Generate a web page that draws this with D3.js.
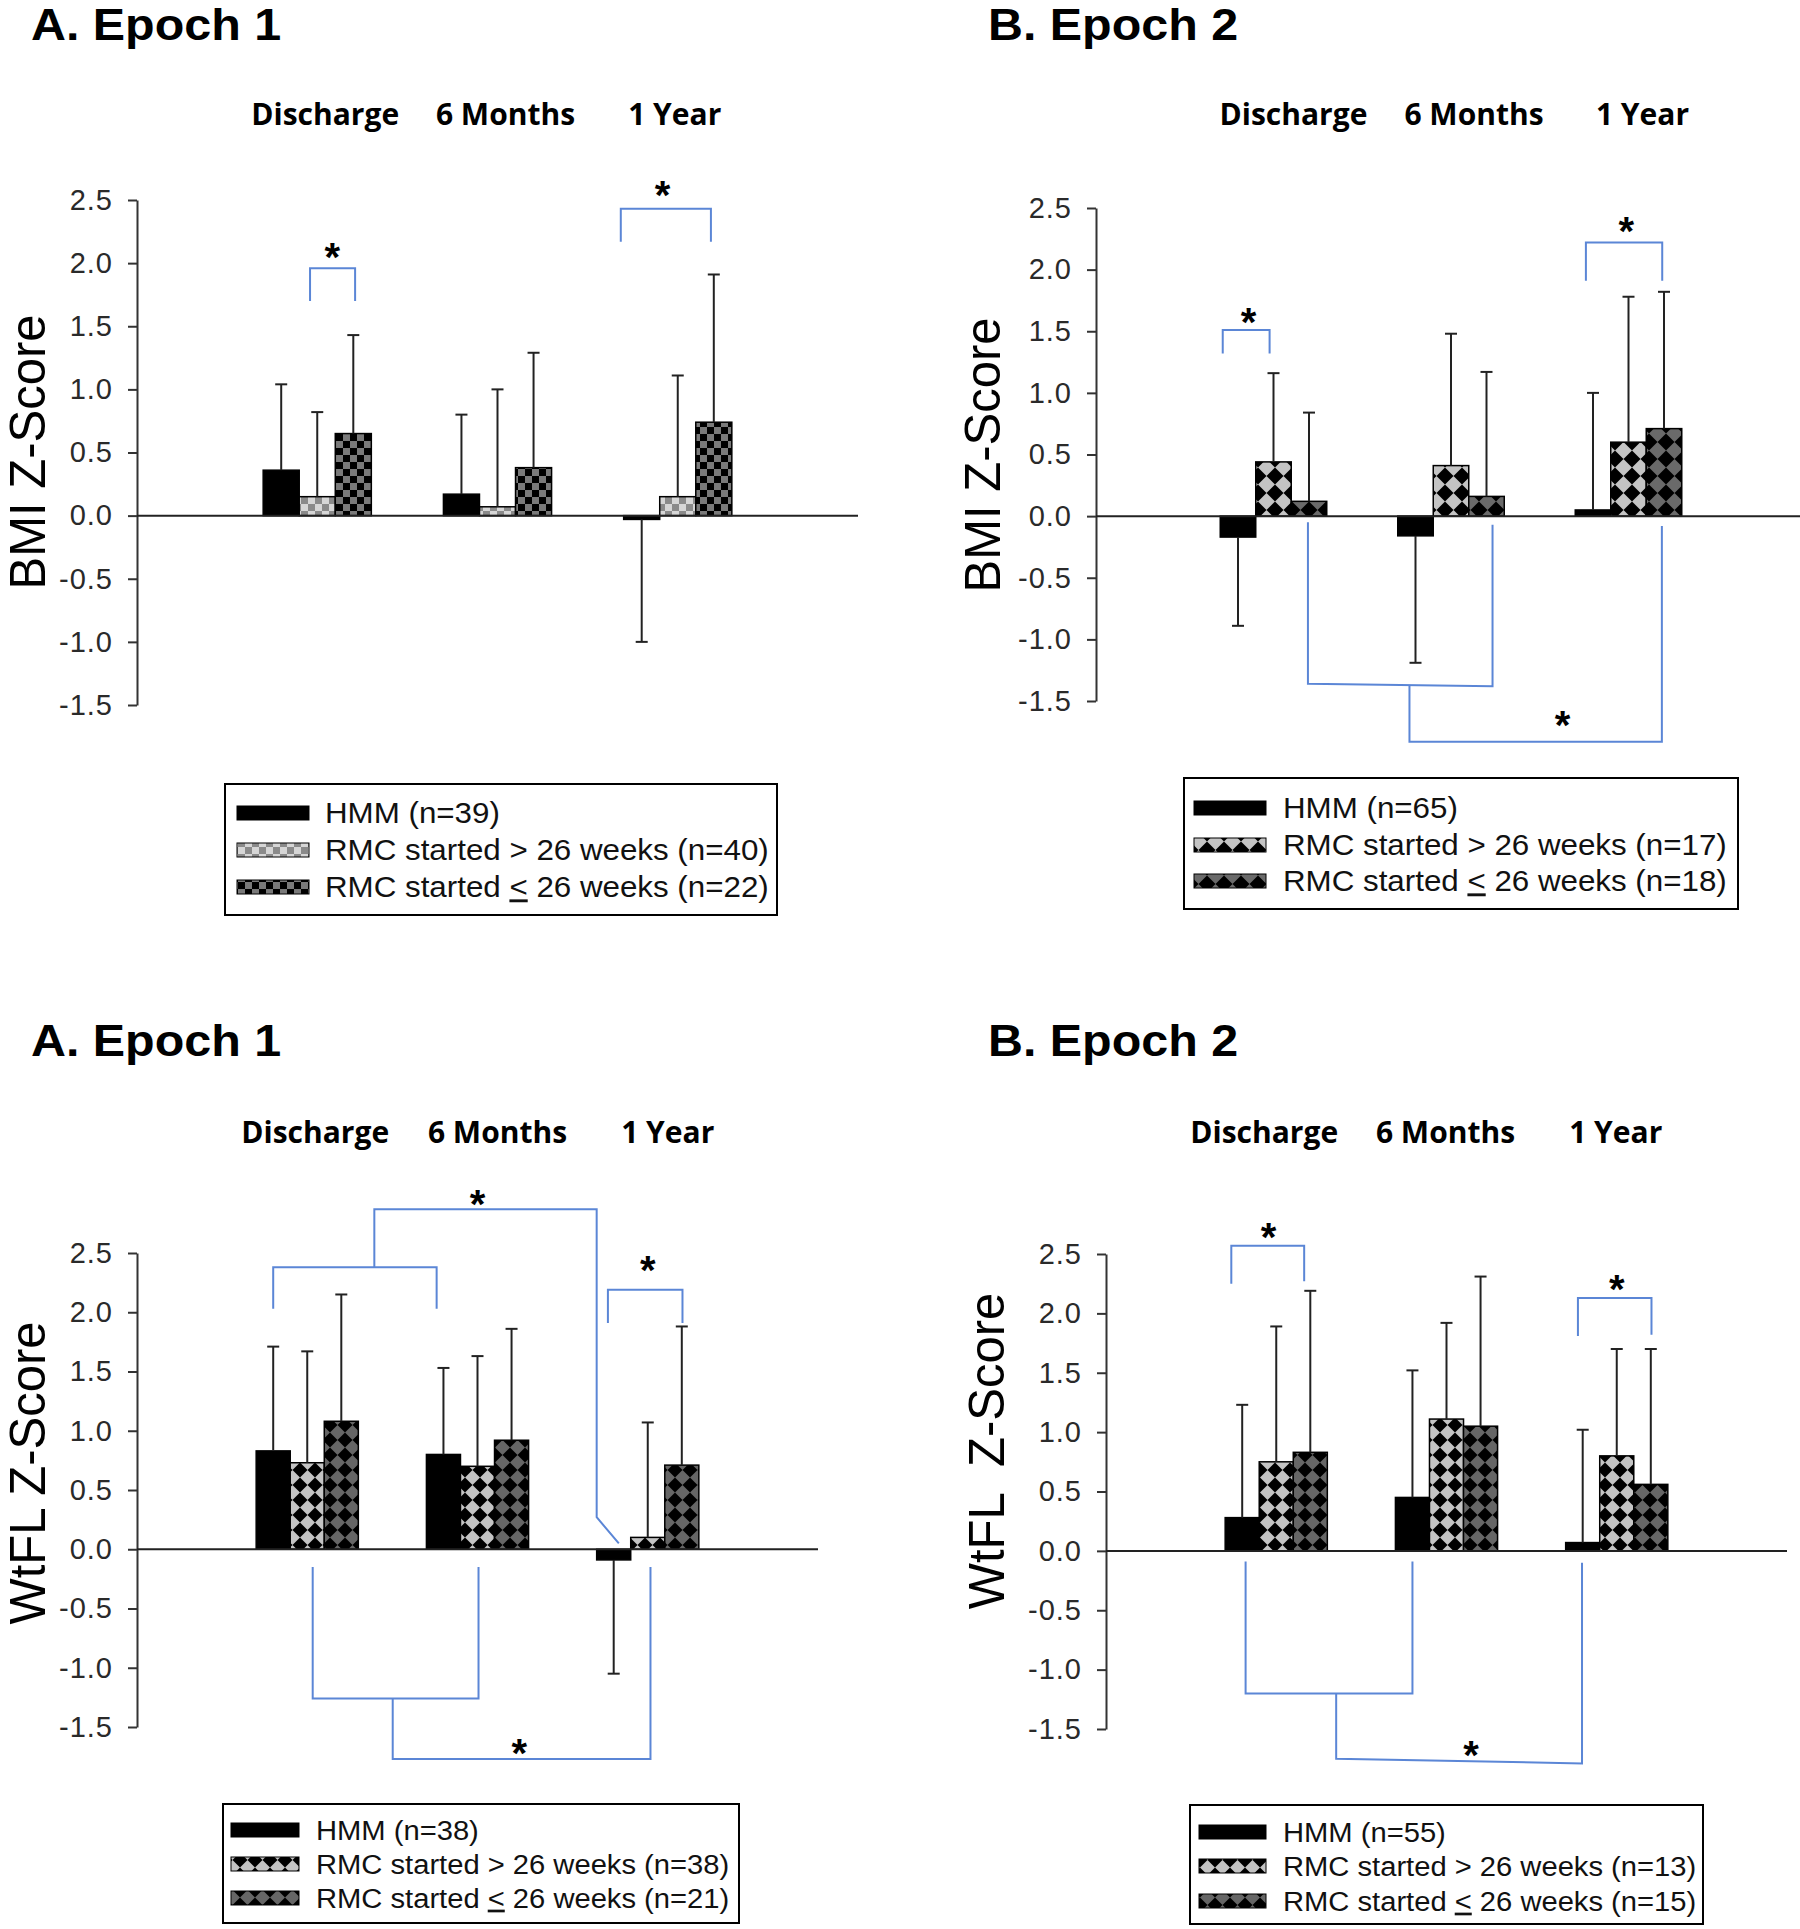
<!DOCTYPE html>
<html>
<head>
<meta charset="utf-8">
<script src="https://cdn.jsdelivr.net/npm/d3@7"></script>
<style>
  body { margin: 0; background: #fff; }
  svg { display: block; }
</style>
</head>
<body>
<svg id="chart"></svg>
<script>
// ---- data ----
const categories = ['Discharge', '6 Months', '1 Year'];
const yTicks = [2.5, 2.0, 1.5, 1.0, 0.5, 0.0, -0.5, -1.0, -1.5];
const panelTitles = ['A. Epoch 1', 'B. Epoch 2', 'A. Epoch 1', 'B. Epoch 2'];
const yTitles = ['BMI Z-Score', 'BMI Z-Score', 'WtFL Z-Score', 'WtFL  Z-Score'];
const legendN = [[39, 40, 22], [65, 17, 18], [38, 38, 21], [55, 13, 15]];

// BMI, epoch 1
const bmiE1Hmm = [0.36, 0.17, -0.03];
const bmiE1HmmSD = [0.68, 0.63, 0.97];
const bmiE1Late = [0.15, 0.07, 0.15];
const bmiE1LateSD = [0.67, 0.93, 0.96];
const bmiE1Early = [0.65, 0.38, 0.74];
const bmiE1EarlySD = [0.78, 0.91, 1.17];

// BMI, epoch 2
const bmiE2Hmm = [-0.17, -0.16, 0.05];
const bmiE2HmmSD = [0.72, 1.03, 0.95];
const bmiE2Late = [0.44, 0.41, 0.60];
const bmiE2LateSD = [0.72, 1.07, 1.18];
const bmiE2Early = [0.12, 0.16, 0.71];
const bmiE2EarlySD = [0.72, 1.01, 1.11];

// WtFL, epoch 1
const wflE1Hmm = [0.83, 0.80, -0.09];
const wflE1HmmSD = [0.88, 0.73, 0.96];
const wflE1Late = [0.73, 0.70, 0.10];
const wflE1LateSD = [0.94, 0.93, 0.97];
const wflE1Early = [1.08, 0.92, 0.71];
const wflE1EarlySD = [1.07, 0.94, 1.17];

// WtFL, epoch 2
const wflE2Hmm = [0.28, 0.45, 0.07];
const wflE2HmmSD = [0.95, 1.07, 0.95];
const wflE2Late = [0.75, 1.11, 0.80];
const wflE2LateSD = [1.14, 0.81, 0.90];
const wflE2Early = [0.83, 1.05, 0.56];
const wflE2EarlySD = [1.36, 1.26, 1.14];

// significance brackets: polylines of [category, offset in bar widths, z value]
const bmiE1Brackets = [
  [[0, -0.2, 1.70], [0, -0.2, 1.96], [0, 1.05, 1.96], [0, 1.05, 1.70]],
  [[2, -1.58, 2.17], [2, -1.58, 2.43], [2, 0.92, 2.43], [2, 0.92, 2.17]]
];
const bmiE1Stars = [[0, 0.42, 2.12], [2, -0.42, 2.61]];

const bmiE2Brackets = [
  [[0, -1.43, 1.32], [0, -1.43, 1.51], [0, -0.11, 1.51], [0, -0.11, 1.32]],
  [[2, -1.2, 1.91], [2, -1.2, 2.22], [2, 0.95, 2.22], [2, 0.95, 1.91]],
  [[0, 0.97, -0.05], [0, 0.97, -1.36], [1, 1.17, -1.38], [1, 1.17, -0.07]],
  [[0, 3.83, -1.37], [0, 3.83, -1.83], [2, 0.94, -1.83], [2, 0.94, -0.08]]
];
const bmiE2Stars = [[0, -0.7, 1.65], [2, -0.06, 2.39], [2, -1.86, -1.62]];

const wflE1Brackets = [
  [[0, -1, 2.03], [0, -1, 2.38], [1, -1.2, 2.38], [1, -1.2, 2.03]],
  [[0, 1.97, 2.38], [0, 1.97, 2.87], [2, -1.5, 2.87], [2, -1.5, 0.27], [2, -0.85, 0.05]],
  [[2, -1.17, 1.91], [2, -1.17, 2.19], [2, 1.02, 2.19], [2, 1.02, 1.91]],
  [[0, 0.16, -0.15], [0, 0.16, -1.26], [1, 0.03, -1.26], [1, 0.03, -0.15]],
  [[0, 2.51, -1.26], [0, 2.51, -1.77], [2, 0.08, -1.77], [2, 0.08, -0.15]]
];
const wflE1Stars = [[1, 0, 2.99], [2, 0, 2.43], [1, 1.23, -1.64]];

const wflE2Brackets = [
  [[0, -1.32, 2.25], [0, -1.32, 2.57], [0, 0.82, 2.57], [0, 0.82, 2.27]],
  [[2, -1.14, 1.81], [2, -1.14, 2.13], [2, 1.02, 2.13], [2, 1.02, 1.82]],
  [[0, -0.9, -0.09], [0, -0.9, -1.20], [1, -1.0, -1.20], [1, -1.0, -0.09]],
  [[0, 1.76, -1.20], [0, 1.76, -1.75], [2, -1.02, -1.79], [2, -1.02, -0.10]]
];
const wflE2Stars = [[0, -0.23, 2.72], [2, 0, 2.28], [1, 0.72, -1.64]];

// ---- layout ----
const W = 1800, H = 1929;
const svg = d3.select('#chart').attr('width', W).attr('height', H);
svg.append('rect').attr('width', W).attr('height', H).attr('fill', '#fff');

const defs = svg.append('defs');

function checker(id, a, b, s) {
  const p = defs.append('pattern').attr('id', id)
      .attr('patternUnits', 'userSpaceOnUse')
      .attr('width', 2 * s).attr('height', 2 * s);
  p.append('rect').attr('width', 2 * s).attr('height', 2 * s).attr('fill', a);
  p.append('rect').attr('width', s).attr('height', s).attr('fill', b);
  p.append('rect').attr('x', s).attr('y', s).attr('width', s).attr('height', s).attr('fill', b);
}
function diamond(id, light, s) {
  const p = defs.append('pattern').attr('id', id)
      .attr('patternUnits', 'userSpaceOnUse')
      .attr('width', s).attr('height', s);
  p.append('rect').attr('width', s).attr('height', s).attr('fill', '#000');
  p.append('polygon')
      .attr('points', `${s / 2},0 ${s},${s / 2} ${s / 2},${s} 0,${s / 2}`)
      .attr('fill', light);
}
checker('checkLight', '#d6d6d6', '#8a8a8a', 7);
checker('checkDark', '#7a7a7a', '#000', 7);
diamond('diaLightB', '#c4c4c4', 17);
diamond('diaDarkB', '#6a6a6a', 17);
diamond('diaLight', '#c4c4c4', 15);
diamond('diaDark', '#666666', 15);

const panels = [
  { hmm: bmiE1Hmm, hmmSD: bmiE1HmmSD, late: bmiE1Late, lateSD: bmiE1LateSD, early: bmiE1Early, earlySD: bmiE1EarlySD,
    brackets: bmiE1Brackets, stars: bmiE1Stars,
    x0: 137, x1: 858, yTop: 200, yBot: 705, titleX: 31, titleY: 40, catY: 125, catShift: [8, 8, -3],
    yTitleX: 45, yTitleY: 452, pat: ['checkLight', 'checkDark'],
    legend: { x: 225, y: 784, w: 552, h: 131, sw: 237, swW: 72, tx: 325, rows: [813, 850, 887], fs: 29 } },
  { hmm: bmiE2Hmm, hmmSD: bmiE2HmmSD, late: bmiE2Late, lateSD: bmiE2LateSD, early: bmiE2Early, earlySD: bmiE2EarlySD,
    brackets: bmiE2Brackets, stars: bmiE2Stars,
    x0: 1096, x1: 1806, yTop: 208, yBot: 701, titleX: 988, titleY: 40, catY: 125, catShift: [20, 23, 14],
    yTitleX: 1000, yTitleY: 455, pat: ['diaLightB', 'diaDarkB'],
    legend: { x: 1184, y: 778, w: 554, h: 131, sw: 1194, swW: 72, tx: 1283, rows: [808, 845, 881], fs: 29 } },
  { hmm: wflE1Hmm, hmmSD: wflE1HmmSD, late: wflE1Late, lateSD: wflE1LateSD, early: wflE1Early, earlySD: wflE1EarlySD,
    brackets: wflE1Brackets, stars: wflE1Stars,
    x0: 137, x1: 818, yTop: 1253, yBot: 1727, titleX: 31, titleY: 1056, catY: 1143, catShift: [8, 20, 20],
    yTitleX: 45, yTitleY: 1473, pat: ['diaLight', 'diaDark'],
    legend: { x: 223, y: 1804, w: 516, h: 119, sw: 231, swW: 68, tx: 316, rows: [1830, 1864, 1898], fs: 27 } },
  { hmm: wflE2Hmm, hmmSD: wflE2HmmSD, late: wflE2Late, lateSD: wflE2LateSD, early: wflE2Early, earlySD: wflE2EarlySD,
    brackets: wflE2Brackets, stars: wflE2Stars,
    x0: 1106, x1: 1787, yTop: 1254, yBot: 1729, titleX: 988, titleY: 1056, catY: 1143, catShift: [-12, -1, -1],
    yTitleX: 1004, yTitleY: 1451, pat: ['diaLight', 'diaDark'],
    legend: { x: 1190, y: 1805, w: 513, h: 119, sw: 1199, swW: 67, tx: 1283, rows: [1832, 1866, 1901], fs: 27 } }
];

const bracketColor = '#5b86d6';
const sansFont = "'Liberation Sans', Arial, sans-serif";

panels.forEach((p, pi) => {
  const g = svg.append('g').attr('class', 'panel-' + pi);

  // category index -1..3 spans the axis; groups sit at 0, 1, 2
  const x = d3.scaleLinear().domain([-1, 3]).range([p.x0, p.x1]);
  const y = d3.scaleLinear().domain([2.5, -1.5]).range([p.yTop, p.yBot]);
  const bw = (x(1) - x(0)) * 0.2;
  const px = (c, off) => x(c) + off * bw;

  // title
  g.append('text')
      .attr('transform', `translate(${p.titleX},${p.titleY}) scale(1.1,1)`)
      .text(panelTitles[pi])
      .style('font-family', sansFont)
      .style('font-weight', 'bold')
      .style('font-size', '44px')
      .attr('fill', '#000');

  // category headers
  g.selectAll('.cat')
      .data(categories)
      .enter()
      .append('text')
      .attr('class', 'cat')
      .attr('x', (d, i) => x(i) + p.catShift[i])
      .attr('y', p.catY)
      .attr('text-anchor', 'middle')
      .text(d => d)
      .style('font-family', "'Open Sans', sans-serif")
      .style('font-weight', 'bold')
      .style('font-size', '30px')
      .attr('fill', '#000');

  // y axis
  const yAxis = d3.axisLeft(y)
      .tickValues(yTicks)
      .tickSize(9)
      .tickSizeOuter(0)
      .tickPadding(15)
      .tickFormat(d => d.toFixed(1));
  const ax = g.append('g')
      .attr('transform', `translate(${p.x0},0)`)
      .call(yAxis);
  ax.select('.domain').attr('stroke', '#333').attr('stroke-width', 2);
  ax.selectAll('.tick line').attr('stroke', '#333').attr('stroke-width', 2);
  ax.selectAll('.tick text')
      .style('font-family', sansFont)
      .style('font-size', '29px')
      .style('letter-spacing', '1px')
      .attr('fill', '#2a2a2a');

  // y title
  g.append('text')
      .attr('transform', `translate(${p.yTitleX},${p.yTitleY}) scale(1.03,1) rotate(-90)`)
      .attr('text-anchor', 'middle')
      .style('white-space', 'pre')
      .text(yTitles[pi])
      .style('font-family', sansFont)
      .style('font-size', '49px')
      .attr('fill', '#000');

  // bars
  const series = [
    { key: 'hmm', vals: p.hmm, sd: p.hmmSD, fill: '#000' },
    { key: 'late', vals: p.late, sd: p.lateSD, fill: `url(#${p.pat[0]})` },
    { key: 'early', vals: p.early, sd: p.earlySD, fill: `url(#${p.pat[1]})` }
  ];

  series.forEach((s, si) => {
    g.selectAll('.bar-' + s.key)
        .data(s.vals)
        .enter()
        .append('rect')
        .attr('class', 'bar-' + s.key)
        .attr('x', (d, i) => px(i, si - 1.5))
        .attr('y', d => y(Math.max(d, 0)))
        .attr('width', bw)
        .attr('height', d => Math.abs(y(d) - y(0)))
        .attr('fill', s.fill)
        .attr('stroke', '#000')
        .attr('stroke-width', 1.5);
  });

  // error bars (one-sided, away from zero)
  series.forEach((s, si) => {
    const errEnd = (d, i) => y(d + (d < 0 ? -s.sd[i] : s.sd[i]));
    g.selectAll('.err-' + s.key)
        .data(s.vals)
        .enter()
        .append('line')
        .attr('class', 'err-' + s.key)
        .attr('x1', (d, i) => px(i, si - 1))
        .attr('x2', (d, i) => px(i, si - 1))
        .attr('y1', d => y(d))
        .attr('y2', errEnd)
        .attr('stroke', '#222')
        .attr('stroke-width', 2);
    g.selectAll('.cap-' + s.key)
        .data(s.vals)
        .enter()
        .append('line')
        .attr('class', 'cap-' + s.key)
        .attr('x1', (d, i) => px(i, si - 1) - 6)
        .attr('x2', (d, i) => px(i, si - 1) + 6)
        .attr('y1', errEnd)
        .attr('y2', errEnd)
        .attr('stroke', '#222')
        .attr('stroke-width', 2);
  });

  // zero line
  g.append('line')
      .attr('x1', p.x0).attr('x2', p.x1)
      .attr('y1', y(0)).attr('y2', y(0))
      .attr('stroke', '#222')
      .attr('stroke-width', 2);

  // significance brackets
  const line = d3.line().x(d => px(d[0], d[1])).y(d => y(d[2]));
  g.selectAll('.bracket')
      .data(p.brackets)
      .enter()
      .append('path')
      .attr('class', 'bracket')
      .attr('d', line)
      .attr('fill', 'none')
      .attr('stroke', bracketColor)
      .attr('stroke-width', 2);

  g.selectAll('.star')
      .data(p.stars)
      .enter()
      .append('text')
      .attr('class', 'star')
      .attr('x', d => px(d[0], d[1]))
      .attr('y', d => y(d[2]) + 23)
      .attr('text-anchor', 'middle')
      .text('*')
      .style('font-family', sansFont)
      .style('font-weight', 'bold')
      .style('font-size', '40px')
      .attr('fill', '#000');

  // legend
  const L = p.legend;
  const lg = g.append('g').attr('class', 'legend');
  lg.append('rect')
      .attr('x', L.x).attr('y', L.y)
      .attr('width', L.w).attr('height', L.h)
      .attr('fill', '#fff')
      .attr('stroke', '#000')
      .attr('stroke-width', 2);

  series.forEach((s, si) => {
    lg.append('rect')
        .attr('x', L.sw)
        .attr('y', L.rows[si] - 7)
        .attr('width', L.swW)
        .attr('height', 14)
        .attr('fill', s.fill)
        .attr('stroke', '#000')
        .attr('stroke-width', 1);

    const t = lg.append('text')
        .attr('transform', `translate(${L.tx},${L.rows[si] + L.fs * 0.36}) scale(1.08,1)`)
        .style('font-family', sansFont)
        .style('font-size', L.fs + 'px')
        .style('white-space', 'pre')
        .attr('fill', '#111');
    const n = legendN[pi][si];
    if (si === 0) {
      t.text(`HMM (n=${n})`);
    } else if (si === 1) {
      t.text(`RMC started > 26 weeks (n=${n})`);
    } else {
      t.append('tspan').text('RMC started ');
      t.append('tspan').text('<').style('text-decoration', 'underline');
      t.append('tspan').text(` 26 weeks (n=${n})`);
    }
  });
});
</script>
</body>
</html>
